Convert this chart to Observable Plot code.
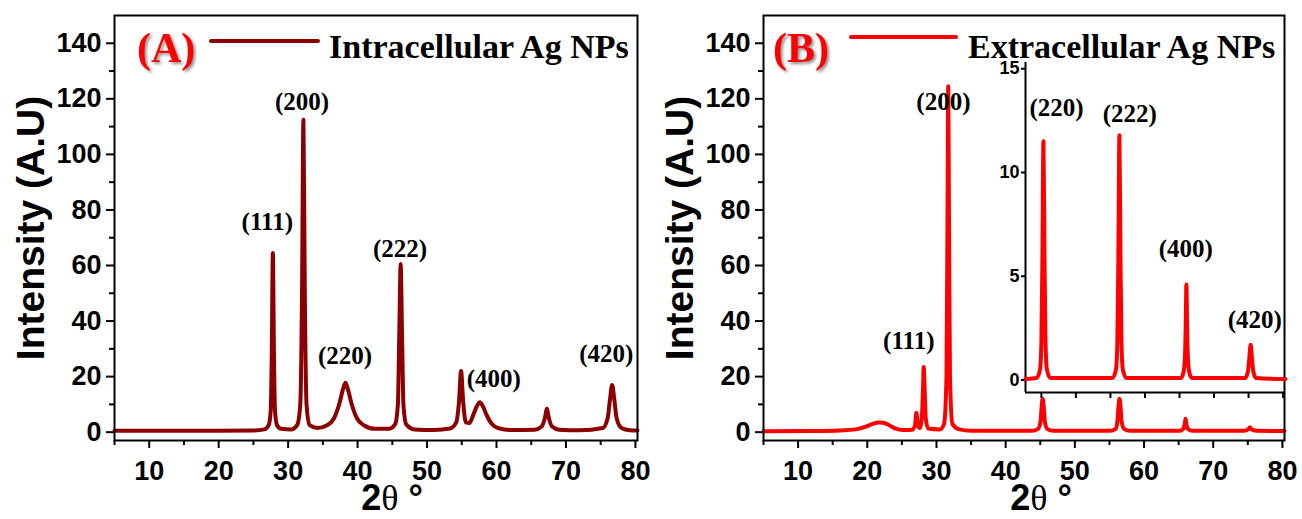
<!DOCTYPE html>
<html>
<head>
<meta charset="utf-8">
<script src="https://cdn.jsdelivr.net/npm/d3@7"></script>
<script src="https://cdn.jsdelivr.net/npm/@observablehq/plot@0.6"></script>
<style>
  html, body { margin: 0; padding: 0; background: #fff; }
  #chart { position: relative; width: 1302px; height: 519px; overflow: hidden; background: #fff; }
  #chart > svg { position: absolute; overflow: visible; }
</style>
</head>
<body>
<div id="chart"></div>
<script>
// ---- XRD patterns: 2θ (degrees) vs intensity (a.u.) ----

// (A) Intracellular Ag NPs
const intraTheta = [5, 20, 25, 26.6, 27.2, 27.5, 27.65, 27.8, 27.95, 28.1, 28.4, 29.0, 30.5, 31.3, 31.75, 32.0, 32.2, 32.4, 32.65, 33.1, 34.2, 35.6, 36.6, 37.4, 37.9, 38.25, 38.6, 39.1, 39.9, 40.9, 42.5, 44.5, 45.4, 45.8, 46.0, 46.2, 46.4, 46.6, 47.0, 48.2, 51, 53.3, 54.2, 54.6, 54.9, 55.2, 55.6, 56.1, 56.7, 57.2, 57.6, 58.0, 58.6, 59.3, 60.3, 62, 65.5, 66.5, 67.0, 67.25, 67.5, 68.0, 69, 72, 75.3, 76.0, 76.35, 76.65, 76.95, 77.3, 78.0, 79.2, 80.3];
const intraIntensity = [0.5, 0.5, 0.6, 1.0, 2.5, 8, 30, 64.5, 30, 8, 2.5, 1.2, 1.0, 2.5, 10, 50, 112.5, 50, 10, 2.5, 1.5, 2.5, 5, 10.5, 15.5, 17.8, 15.5, 10.5, 5, 2.5, 1.2, 1.2, 2.8, 10, 35, 60.5, 35, 10, 2.8, 1.0, 0.8, 1.3, 3.5, 11, 22, 11, 3.5, 3.3, 6.5, 9.5, 10.8, 9.5, 6, 3, 1.4, 0.8, 0.9, 2, 5.5, 8.5, 5.5, 2, 0.9, 0.7, 1.5, 5, 12, 17, 12, 5, 1.5, 0.7, 0.6];
const intraLabels = ["(111)", "(200)", "(220)", "(222)", "(400)", "(420)"];
const intraLabelTheta = [27.0, 32.0, 38.2, 46.1, 59.6, 75.8];
const intraLabelIntensity = [75.5, 118.7, 27.6, 66.1, 19.0, 28.0];

// (B) Extracellular Ag NPs
const extraTheta = [5, 12, 16, 18.5, 19.8, 20.8, 21.6, 22.3, 23.1, 24, 25.2, 26.5, 26.9, 27.1, 27.3, 27.6, 27.9, 28.05, 28.15, 28.3, 28.45, 28.8, 30.5, 31.1, 31.45, 31.6, 31.7, 31.8, 31.95, 32.3, 33.3, 35, 43.8, 44.7, 45.05, 45.2, 45.35, 45.5, 45.65, 46.0, 46.9, 55.1, 55.9, 56.15, 56.3, 56.45, 56.6, 56.75, 57.1, 58, 65.2, 65.6, 65.85, 66.0, 66.15, 66.4, 67, 74.4, 74.9, 75.15, 75.3, 75.45, 75.7, 76.3, 80.3];
const extraIntensity = [0.3, 0.4, 0.6, 1.1, 2, 3, 3.5, 3.4, 2.6, 1.4, 0.8, 0.9, 2.5, 7, 2.5, 1.5, 6, 15, 23.5, 15, 5, 1.3, 1.0, 3, 20, 80, 124.5, 80, 20, 3, 1.0, 0.5, 0.5, 1.2, 4, 9, 12, 9, 4, 1.2, 0.5, 0.5, 1.2, 4, 9, 12, 9, 4, 1.2, 0.5, 0.5, 1.0, 2.5, 4.8, 2.5, 1.0, 0.5, 0.5, 0.8, 1.3, 1.8, 1.3, 0.8, 0.5, 0.4];
const extraLabels = ["(111)", "(200)"];
const extraLabelTheta = [26.0, 31.0];
const extraLabelIntensity = [33.0, 118.7];

// (B) inset: high-angle region enlarged
const insetTheta = [42.7, 44.3, 44.8, 45.0, 45.15, 45.3, 45.45, 45.6, 45.8, 46.3, 55.3, 55.8, 56.0, 56.15, 56.3, 56.45, 56.6, 56.8, 57.3, 65.2, 65.6, 65.8, 65.9, 66.0, 66.1, 66.2, 66.4, 66.8, 74.5, 74.9, 75.1, 75.3, 75.5, 75.7, 76.1, 80.35];
const insetIntensity = [0.05, 0.1, 0.5, 1.8, 6, 11.5, 6, 1.8, 0.5, 0.1, 0.1, 0.5, 1.8, 6, 11.8, 6, 1.8, 0.5, 0.1, 0.1, 0.4, 1.2, 2.6, 4.6, 2.6, 1.2, 0.4, 0.1, 0.1, 0.4, 1.0, 1.7, 1.0, 0.4, 0.1, 0.05];
const insetLabels = ["(220)", "(222)", "(400)", "(420)"];
const insetLabelTheta = [47.2, 57.8, 65.9, 75.9];
const insetLabelIntensity = [13.1, 12.8, 6.3, 2.9];

// Axes
const xDomain = [5, 80.3];
const yDomain = [-3, 150];
const xTicks = [10, 20, 30, 40, 50, 60, 70, 80];
const xMinorTicks = [5, 15, 25, 35, 45, 55, 65, 75];
const yTicks = [0, 20, 40, 60, 80, 100, 120, 140];
const yMinorTicks = [10, 30, 50, 70, 90, 110, 130];
const insetXDomain = [42.7, 80.35];
const insetYDomain = [-0.6, 15.3];
const insetXTicks = [45, 50, 55, 60, 65, 70, 75, 80];
const insetYTicks = [0, 5, 10, 15];

const xTitle = "2θ °";
const yTitle = "Intensity (A.U)";

const SANS = "'Liberation Sans', Arial, Helvetica, sans-serif";
const SERIF = "'Liberation Serif', 'Times New Roman', Times, serif";
const DARK_RED = "#8b0000";
const RED = "#ff0000";

const chart = document.getElementById("chart");

function zip(xs, ys, extra) {
  return xs.map((x, i) => ({x, y: ys[i], label: extra ? extra[i] : null}));
}

// Split the x title so that θ is set in a serif face
function styleXTitle(svg) {
  svg.querySelectorAll("text").forEach((t) => {
    if (t.textContent === xTitle) {
      t.textContent = "";
      const parts = [["2", SANS, "bold"], ["θ", SERIF, "normal"], [" °", SANS, "bold"]];
      for (const [s, f, w] of parts) {
        const ts = document.createElementNS("http://www.w3.org/2000/svg", "tspan");
        ts.textContent = s;
        ts.setAttribute("font-family", f);
        ts.setAttribute("font-weight", w);
        t.appendChild(ts);
      }
    }
  });
}

function panel({theta, intensity, color, labels, labelTheta, labelIntensity, left, marginLeft, marginRight, xTitleDx}) {
  const width = 651;
  const svg = Plot.plot({
    width,
    height: 519,
    marginLeft,
    marginRight,
    marginTop: 15,
    marginBottom: 79,
    x: {domain: xDomain, axis: null},
    y: {domain: yDomain, axis: null},
    style: {fontFamily: SANS, background: "transparent", color: "#000", overflow: "visible"},
    marks: [
      Plot.axisY({ticks: yMinorTicks, tickSize: 5, text: null, label: null, strokeWidth: 2}),
      Plot.axisY({ticks: yTicks, tickSize: 8, tickPadding: 5, label: null, strokeWidth: 2,
        fontSize: 27, fontWeight: "bold", fontFamily: SANS}),
      Plot.axisX({ticks: xMinorTicks, tickSize: 5, text: null, label: null, strokeWidth: 2}),
      Plot.axisX({ticks: xTicks, tickSize: 8, tickPadding: 12, label: null, strokeWidth: 2,
        fontSize: 27, fontWeight: "bold", fontFamily: SANS}),
      Plot.line(zip(theta, intensity), {x: "x", y: "y", stroke: color, strokeWidth: 4,
        curve: "monotone-x", strokeLinejoin: "round", strokeLinecap: "round"}),
      Plot.frame({stroke: "#000", strokeWidth: 2}),
      Plot.text(zip(labelTheta, labelIntensity, labels), {x: "x", y: "y", text: "label",
        fontFamily: SERIF, fontWeight: "bold", fontSize: 25, fill: "#000"}),
      Plot.text([yTitle], {text: (d) => d, frameAnchor: "left", dx: -83, rotate: -90,
        textAnchor: "middle", lineAnchor: "middle",
        fontFamily: SANS, fontWeight: "bold", fontSize: 39, fill: "#000"}),
      Plot.text([xTitle], {text: (d) => d, frameAnchor: "bottom", dy: 58, dx: xTitleDx,
        textAnchor: "middle", lineAnchor: "middle",
        fontFamily: SANS, fontWeight: "bold", fontSize: 36, fill: "#000"})
    ]
  });
  svg.style.left = left + "px";
  svg.style.top = "0px";
  styleXTitle(svg);
  chart.appendChild(svg);
}

panel({
  theta: intraTheta, intensity: intraIntensity, color: DARK_RED,
  labels: intraLabels, labelTheta: intraLabelTheta, labelIntensity: intraLabelIntensity,
  left: 0, marginLeft: 114, marginRight: 14, xTitleDx: 16
});

panel({
  theta: extraTheta, intensity: extraIntensity, color: RED,
  labels: extraLabels, labelTheta: extraLabelTheta, labelIntensity: extraLabelIntensity,
  left: 651, marginLeft: 112, marginRight: 18, xTitleDx: 17
});

// Inset of panel B
{
  const svg = Plot.plot({
    width: 292,
    height: 350,
    marginLeft: 30,
    marginRight: 2,
    marginTop: 8,
    marginBottom: 12,
    x: {domain: insetXDomain, axis: null},
    y: {domain: insetYDomain, axis: null},
    style: {fontFamily: SANS, background: "transparent", color: "#000", overflow: "visible"},
    marks: [
      Plot.ruleX([insetXDomain[0]], {stroke: "#000", strokeWidth: 2}),
      Plot.ruleY([insetYDomain[0]], {stroke: "#000", strokeWidth: 2}),
      Plot.axisY({ticks: insetYTicks, tickSize: 4, tickPadding: 2, label: null, strokeWidth: 2,
        fontSize: 18, fontWeight: "bold", fontFamily: SANS}),
      Plot.axisX({ticks: insetXTicks, tickSize: 6, text: null, label: null, strokeWidth: 2}),
      Plot.line(zip(insetTheta, insetIntensity), {x: "x", y: "y", stroke: RED, strokeWidth: 4,
        curve: "monotone-x", strokeLinejoin: "round"}),
      Plot.text(zip(insetLabelTheta, insetLabelIntensity, insetLabels), {x: "x", y: "y", text: "label",
        fontFamily: SERIF, fontWeight: "bold", fontSize: 25, fill: "#000"})
    ]
  });
  svg.style.left = "995px";
  svg.style.top = "54px";
  chart.appendChild(svg);
}

// Legends inside each panel
{
  const ns = "http://www.w3.org/2000/svg";
  const svg = document.createElementNS(ns, "svg");
  svg.setAttribute("width", 1302);
  svg.setAttribute("height", 80);
  svg.style.left = "0px";
  svg.style.top = "0px";
  const entries = [
    {tag: "(A)", tagX: 137, lineX: [211, 318], lineY: 41, color: DARK_RED, name: "Intracellular Ag NPs", nameX: 329},
    {tag: "(B)", tagX: 773, lineX: [851, 956], lineY: 37, color: RED, name: "Extracellular Ag NPs", nameX: 968}
  ];
  for (const e of entries) {
    const tag = document.createElementNS(ns, "text");
    tag.textContent = e.tag;
    tag.setAttribute("x", e.tagX);
    tag.setAttribute("y", 62);
    tag.setAttribute("font-family", SERIF);
    tag.setAttribute("font-weight", "bold");
    tag.setAttribute("font-size", 42);
    tag.setAttribute("fill", RED);
    tag.style.filter = "drop-shadow(2px 2px 1.5px rgba(0,0,0,0.45))";
    svg.appendChild(tag);
    const line = document.createElementNS(ns, "line");
    line.setAttribute("x1", e.lineX[0]);
    line.setAttribute("x2", e.lineX[1]);
    line.setAttribute("y1", e.lineY);
    line.setAttribute("y2", e.lineY);
    line.setAttribute("stroke", e.color);
    line.setAttribute("stroke-width", 4);
    line.setAttribute("stroke-linecap", "round");
    svg.appendChild(line);
    const name = document.createElementNS(ns, "text");
    name.textContent = e.name;
    name.setAttribute("x", e.nameX);
    name.setAttribute("y", 58);
    name.setAttribute("font-family", SERIF);
    name.setAttribute("font-weight", "bold");
    name.setAttribute("font-size", 34);
    name.setAttribute("fill", "#000");
    svg.appendChild(name);
  }
  chart.appendChild(svg);
}
</script>
</body>
</html>
